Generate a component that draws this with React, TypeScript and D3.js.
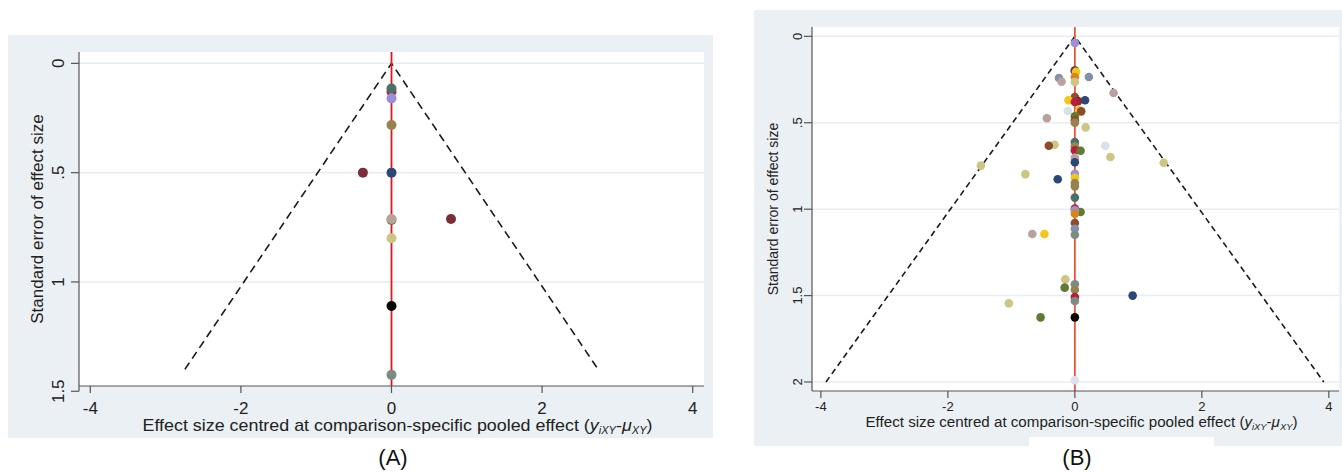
import { useRef, useEffect } from "react";
import * as d3 from "d3";

// ---- data ----
const xTicks = [-4, -2, 0, 2, 4];
const aYTicks = [0, 0.5, 1, 1.5];
const bYTicks = [0, 0.5, 1, 1.5, 2];
const aYTickLabels = ["0", ".5", "1", "1.5"];
const bYTickLabels = ["0", ".5", "1", "1.5", "2"];

// panel A: centred effect, standard error, comparison group
const aEffect = [0, 0, 0, 0, -0.38, 0, 0, 0, 0.79, 0, 0, 0];
const aSE = [0.13, 0.115, 0.16, 0.282, 0.5, 0.5, 0.716, 0.712, 0.712, 0.8, 1.11, 1.425];
const aGroup = ["crimson", "teal", "lavender", "olive", "darkred", "navy", "green", "mauve", "darkred", "khaki", "black", "graygreen"];

// panel B
const bEffect = [
  0, 0, 0, 0.02, 0, 0, -0.25, 0.22, -0.21, 0.61,
  0, -0.1, 0.16, 0.05, 0, -0.11, 0.07, 0.1, 0, 0,
  0, -0.44, 0.17, 0, -0.32, -0.41, 0, 0, 0.09, 0.48,
  0.56, 0, 0, -1.48, 1.4, -0.78, -0.27, 0, 0, 0,
  0, 0, 0, 0.09, 0, 0, 0, 0, 0, -0.67,
  -0.48, -0.15, -0.16, 0, 0, 0, 0, 0.91, -1.04, -0.54,
  0, 0,
];
const bSE = [
  0.039, 0.197, 0.2, 0.205, 0.235, 0.264, 0.241, 0.235, 0.262, 0.328,
  0.351, 0.37, 0.37, 0.375, 0.38, 0.432, 0.428, 0.434, 0.463, 0.486,
  0.5, 0.474, 0.527, 0.611, 0.627, 0.633, 0.636, 0.66, 0.662, 0.633,
  0.698, 0.702, 0.729, 0.748, 0.731, 0.797, 0.827, 0.795, 0.818, 0.849,
  0.868, 0.933, 0.997, 1.016, 1.007, 1.026, 1.08, 1.113, 1.148, 1.144,
  1.144, 1.406, 1.454, 1.435, 1.466, 1.508, 1.531, 1.5, 1.545, 1.626,
  1.626, 1.99,
];
const bGroup = [
  "lavender", "teal", "darkred", "yellow", "orange", "khaki", "steelblue", "steelblue", "mauve", "mauve",
  "brown", "yellow", "navy", "darkred", "crimson", "lightblue", "yellow", "brown", "green", "brown",
  "olive", "mauve", "khaki", "teal", "khaki", "brown", "olive", "crimson", "green", "lightblue",
  "khaki", "mauve", "navy", "khaki", "khaki", "khaki", "navy", "lavender", "yellow", "olive",
  "olive", "teal", "crimson", "green", "lavender", "orange", "brown", "steelblue", "graygreen", "mauve",
  "yellow", "khaki", "green", "graygreen", "olive", "crimson", "graygreen", "navy", "khaki", "green",
  "black", "paleLav",
];

const palette: Record<string, string> = {
  teal: "#48716a",
  darkred: "#7a2f38",
  lavender: "#9a90d8",
  olive: "#968350",
  navy: "#2c4676",
  mauve: "#b9a19c",
  khaki: "#cdc584",
  black: "#050505",
  graygreen: "#7b8d83",
  orange: "#d9821e",
  steelblue: "#7f92aa",
  brown: "#8e4c2c",
  yellow: "#f3c61c",
  crimson: "#b81f3c",
  lightblue: "#d8e0e8",
  green: "#5f7a32",
  paleLav: "#dde0ee",
};

const BG = "#eaf0f3";

function drawPanel(svg, cfg) {
  const { effect, se, group, left, right, top, bottom, xDomain, yDomain, yTicks, yLabels, seMax, radius, lineColor, tickSize, titleSize, yTitleX, yLabelX, xLabelY, xTitleY, titleLen, dash } = cfg;
  const x = d3.scaleLinear().domain(xDomain).range([left, right]);
  const y = d3.scaleLinear().domain(yDomain).range([top, bottom]);
  const g = svg.append("g");

  // plot region
  g.append("rect")
    .attr("x", left).attr("y", top)
    .attr("width", right - left).attr("height", bottom - top)
    .attr("fill", "white");

  // grid
  g.selectAll(".grid").data(yTicks.filter((t) => y(t) < bottom - 2)).join("line")
    .attr("x1", left).attr("x2", right)
    .attr("y1", (d) => y(d)).attr("y2", (d) => y(d))
    .attr("stroke", "#e5edf1").attr("stroke-width", 1.5);

  // funnel
  const funnel = [[-1.96 * seMax, seMax], [0, 0], [1.96 * seMax, seMax]];
  g.append("path")
    .attr("d", d3.line().x((d) => x(d[0])).y((d) => y(d[1]))(funnel))
    .attr("fill", "none").attr("stroke", "#1a1a1a")
    .attr("stroke-width", 1.6).attr("stroke-dasharray", dash);

  // zero line
  g.append("line")
    .attr("x1", x(0)).attr("x2", x(0)).attr("y1", top).attr("y2", bottom)
    .attr("stroke", lineColor).attr("stroke-width", 1.8);

  // points
  g.selectAll(".pt").data(effect).join("circle")
    .attr("cx", (d) => x(d))
    .attr("cy", (d, i) => y(se[i]))
    .attr("r", radius)
    .attr("fill", (d, i) => palette[group[i]]);

  // axes
  g.append("line").attr("x1", left).attr("x2", left).attr("y1", top).attr("y2", Math.max(bottom, y(yTicks[yTicks.length - 1])))
    .attr("stroke", "#555").attr("stroke-width", 1.2);
  g.append("line").attr("x1", left).attr("x2", right).attr("y1", bottom).attr("y2", bottom)
    .attr("stroke", "#555").attr("stroke-width", 1.2);

  g.selectAll(".yt").data(yTicks).join("line")
    .attr("x1", left - 8).attr("x2", left)
    .attr("y1", (d) => y(d)).attr("y2", (d) => y(d))
    .attr("stroke", "#555").attr("stroke-width", 1.2);
  g.selectAll(".yl").data(yTicks).join("text")
    .attr("transform", (d) => `translate(${yLabelX},${y(d)}) rotate(-90)`)
    .attr("text-anchor", "middle").attr("dy", "0.35em")
    .attr("font-size", tickSize).attr("fill", "#222")
    .text((d, i) => yLabels[i]);

  g.selectAll(".xt").data(xTicks).join("line")
    .attr("x1", (d) => x(d)).attr("x2", (d) => x(d))
    .attr("y1", bottom).attr("y2", bottom + 7)
    .attr("stroke", "#555").attr("stroke-width", 1.2);
  g.selectAll(".xl").data(xTicks).join("text")
    .attr("x", (d) => x(d)).attr("y", xLabelY)
    .attr("text-anchor", "middle")
    .attr("font-size", tickSize).attr("fill", "#222")
    .text((d) => (d < 0 ? "-" + Math.abs(d) : String(d)));

  // titles
  g.append("text")
    .attr("transform", `translate(${yTitleX},${(top + bottom) / 2}) rotate(-90)`)
    .attr("text-anchor", "middle").attr("dy", "0.35em")
    .attr("font-size", titleSize).attr("fill", "#222")
    .text("Standard error of effect size");

  const t = g.append("text")
    .attr("x", (left + right) / 2 - titleLen / 2 + 6).attr("y", xTitleY)
    .attr("font-size", titleSize).attr("fill", "#222")
    .attr("textLength", titleLen).attr("lengthAdjust", "spacingAndGlyphs");
  t.append("tspan").text("Effect size centred at comparison-specific pooled effect (");
  t.append("tspan").attr("font-style", "italic").text("y");
  t.append("tspan").attr("font-style", "italic").attr("font-size", titleSize * 0.62).attr("dy", 3).text("iXY");
  t.append("tspan").attr("dy", -3).text("-");
  t.append("tspan").attr("font-style", "italic").text("μ");
  t.append("tspan").attr("font-style", "italic").attr("font-size", titleSize * 0.62).attr("dy", 3).text("XY");
  t.append("tspan").attr("dy", -3).text(")");
}

export default function App() {
  const svgRef = useRef(null);

  useEffect(() => {
    const svg = d3.select(svgRef.current);
    svg.selectAll("*").remove();

    // backgrounds
    svg.append("rect").attr("x", 8).attr("y", 35).attr("width", 705).attr("height", 403).attr("fill", BG);
    svg.append("rect").attr("x", 754).attr("y", 10).attr("width", 588).attr("height", 436).attr("fill", BG);
    svg.append("rect").attr("x", 1029).attr("y", 437).attr("width", 185).attr("height", 35).attr("fill", "white");

    drawPanel(svg, {
      effect: aEffect, se: aSE, group: aGroup,
      left: 79, right: 704, top: 52, bottom: 386,
      xDomain: [-4.15, 4.15], yDomain: [-0.052, 1.476],
      yTicks: aYTicks, yLabels: aYTickLabels, seMax: 1.4,
      radius: 5, lineColor: "#e8141c", tickSize: 17, titleSize: 17,
      yTitleX: 37, yLabelX: 58, xLabelY: 414, xTitleY: 431, titleLen: 510,
      dash: "8,5",
    });

    drawPanel(svg, {
      effect: bEffect, se: bSE, group: bGroup,
      left: 812, right: 1339, top: 27, bottom: 391,
      xDomain: [-4.14, 4.16], yDomain: [-0.054, 2.052],
      yTicks: bYTicks, yLabels: bYTickLabels, seMax: 2.0,
      radius: 4.3, lineColor: "#ef5236", tickSize: 13, titleSize: 14,
      yTitleX: 773, yLabelX: 797, xLabelY: 411, xTitleY: 427, titleLen: 432,
      dash: "6,4",
    });

    svg.append("text").attr("x", 393).attr("y", 465).attr("text-anchor", "middle")
      .attr("font-size", 22).attr("fill", "#111").text("(A)");
    svg.append("text").attr("x", 1077).attr("y", 465).attr("text-anchor", "middle")
      .attr("font-size", 22).attr("fill", "#111").text("(B)");
  }, []);

  return (
    <svg
      ref={svgRef}
      width={1342}
      height={472}
      style={{ position: "absolute", left: 0, top: 0, fontFamily: "'Liberation Sans', Arial, sans-serif", background: "white" }}
    />
  );
}
